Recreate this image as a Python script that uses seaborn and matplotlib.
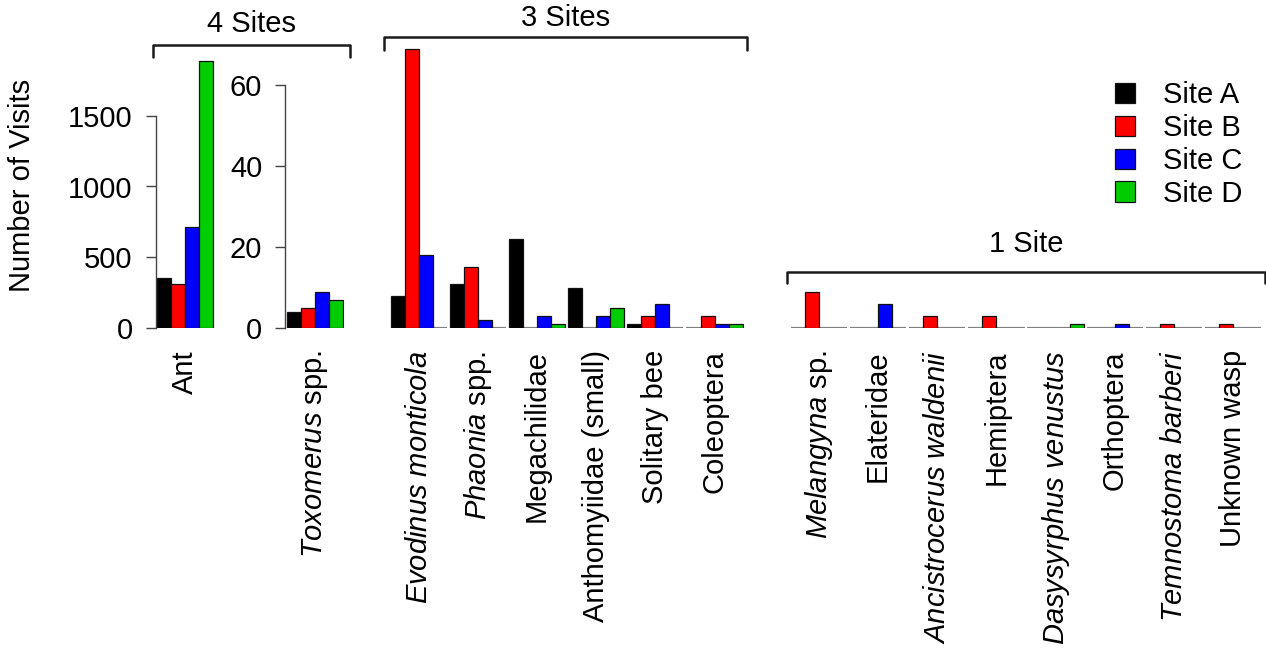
import matplotlib
matplotlib.use('Agg')
import matplotlib.pyplot as plt
from matplotlib.patches import Patch
from matplotlib.lines import Line2D
import seaborn as sns
import pandas as pd

sites = ['Site A', 'Site B', 'Site C', 'Site D']
site_colors = ['#000000', '#FF0000', '#0000FF', '#00CD00']

# 4 sites
ant_taxa = ['Ant']
ant_visits = [350, 310, 715, 1890]
tox_taxa = [r'$\mathit{Toxomerus}$ spp.']
tox_visits = [4, 5, 9, 7]

# 3 sites
three_taxa = [r'$\mathit{Evodinus\ monticola}$', r'$\mathit{Phaonia}$ spp.', 'Megachilidae',
              'Anthomyiidae (small)', 'Solitary bee', 'Coleoptera']
three_a = [8, 11, 22, 10, 1, 0]
three_b = [69, 15, 0, 0, 3, 3]
three_c = [18, 2, 3, 3, 6, 1]
three_d = [0, 0, 1, 5, 0, 1]

# 1 site
one_taxa = [r'$\mathit{Melangyna}$ sp.', 'Elateridae', r'$\mathit{Ancistrocerus\ waldenii}$', 'Hemiptera',
            r'$\mathit{Dasysyrphus\ venustus}$', 'Orthoptera', r'$\mathit{Temnostoma\ barberi}$', 'Unknown wasp']
one_a = [0, 0, 0, 0, 0, 0, 0, 0]
one_b = [9, 0, 3, 3, 0, 0, 1, 1]
one_c = [0, 6, 0, 0, 0, 1, 0, 0]
one_d = [0, 0, 0, 0, 1, 0, 0, 0]


def long_table(taxa, per_site):
    # zero counts are left out so no empty bar outline is drawn
    rows = []
    for s, vals in zip(sites, per_site):
        for t, v in zip(taxa, vals):
            if v > 0:
                rows.append({'taxon': t, 'site': s, 'visits': v})
    return pd.DataFrame(rows)


sns.set_theme(style='white', rc={'text.color': 'black', 'axes.labelcolor': 'black',
                                 'xtick.color': 'black', 'ytick.color': 'black'})
plt.rcParams['font.family'] = ['Liberation Sans', 'DejaVu Sans']
plt.rcParams['mathtext.fontset'] = 'custom'
plt.rcParams['mathtext.rm'] = 'Liberation Sans'
plt.rcParams['mathtext.it'] = 'Liberation Sans:italic'
FS = 21

W, H = 1266, 649
fig = plt.figure(figsize=(W / 100, H / 100), dpi=100)

pitch = 59.15
y_top, y_base = 45, 328


def add_ax(left, n):
    return fig.add_axes([left / W, 1 - y_base / H, n * pitch / W, (y_base - y_top) / H])


panels = [
    (155.5, ant_taxa, [[v] for v in ant_visits], 2000, 1500, [0, 500, 1000, 1500]),
    (285.1, tox_taxa, [[v] for v in tox_visits], 70, 60, [0, 20, 40, 60]),
    (389.2, three_taxa, [three_a, three_b, three_c, three_d], 70, None, None),
    (789.4, one_taxa, [one_a, one_b, one_c, one_d], 70, None, None),
]

for left, taxa, vals, ymax, spine_top, ticks in panels:
    ax = add_ax(left, len(taxa))
    df = long_table(taxa, vals)
    sns.barplot(data=df, x='taxon', y='visits', hue='site', order=taxa, hue_order=sites,
                palette=site_colors, saturation=1, dodge=True, width=0.947, gap=0,
                edgecolor='#111111', linewidth=0.9, legend=False, ax=ax, zorder=3)
    for i in range(len(taxa)):
        ax.hlines(0, i - 0.475, i + 0.475, color='#808080', lw=1.6, zorder=2)
    ax.set_xlim(-0.5, len(taxa) - 0.5)
    ax.set_ylim(0, ymax)
    ax.set_xlabel('')
    ax.set_ylabel('')
    ax.patch.set_alpha(0)
    for side in ['top', 'right', 'bottom']:
        ax.spines[side].set_visible(False)
    ax.tick_params(axis='x', length=0, pad=16, labelsize=FS, labelrotation=90, labelcolor='black')
    if ticks is None:
        ax.spines['left'].set_visible(False)
        ax.set_yticks([])
    else:
        ax.spines['left'].set_bounds(0, spine_top)
        ax.spines['left'].set_color('#444444')
        ax.spines['left'].set_linewidth(1)
        ax.set_yticks(ticks)
        ax.tick_params(axis='y', left=True, direction='out', length=7.5, width=1,
                       color='#444444', pad=9, labelsize=FS, labelcolor='black')

fig.text(22 / W, 1 - 185 / H, 'Number of Visits', rotation=90, ha='center', va='center', fontsize=FS)


def bracket(x0, x1, ytop, ytip, label, ylab):
    xs = [x0 / W, x0 / W, x1 / W, x1 / W]
    ys = [1 - ytip / H, 1 - ytop / H, 1 - ytop / H, 1 - ytip / H]
    fig.add_artist(Line2D(xs, ys, color='#1a1a1a', lw=1.8, transform=fig.transFigure))
    fig.text((x0 + x1) / 2 / W, 1 - ylab / H, label, ha='center', va='center', fontsize=FS)


bracket(153, 350, 45, 57, '4 Sites', 24)
bracket(384, 746.5, 37, 50, '3 Sites', 18)
bracket(787, 1265, 272, 283, '1 Site', 244)

handles = [Patch(facecolor=c, edgecolor='#111111', linewidth=0.9) for c in site_colors]
fig.legend(handles, sites, loc='upper left', bbox_to_anchor=(1115 / W, 1 - 81 / H), frameon=False,
           fontsize=FS, handlelength=0.7, handleheight=0.7, handletextpad=0.95, labelspacing=0.17,
           borderpad=0, borderaxespad=0)

fig.savefig('out.png', dpi=100)
